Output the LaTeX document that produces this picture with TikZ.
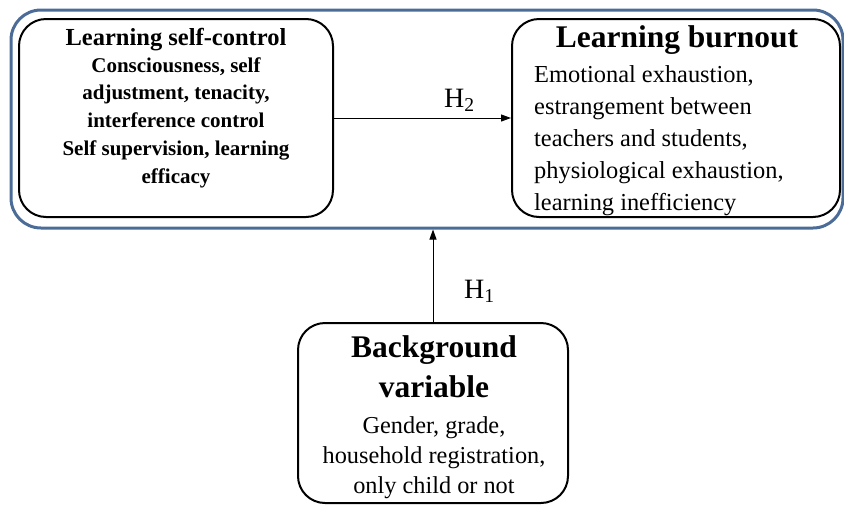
\documentclass[tikz,border=0pt]{standalone}
\usepackage{fontspec}
\setmainfont{Liberation Serif}
\usetikzlibrary{arrows.meta}
\definecolor{frameblue}{HTML}{4C6C98}
\tikzset{
  box/.style={draw=black, line width=2pt, rounded corners=27pt, inner sep=0pt},
  outerframe/.style={draw=frameblue, line width=3pt, rounded corners=30pt, inner sep=0pt},
  txt/.style={inner sep=0pt, align=center},
  conn/.style={draw=black, line width=1pt, -{Triangle[length=10pt,width=7pt]}}
}
\begin{document}
\begin{tikzpicture}[x=1pt,y=-1pt]
\useasboundingbox (0,0) rectangle (844,504);
\clip (0,0) rectangle (844,504);
\node[outerframe, minimum width=832pt, minimum height=218pt] (outer) at (427,119) {};
\node[box, minimum width=314pt, minimum height=198pt] (lsc) at (176,118) {};
\node[box, minimum width=328pt, minimum height=198pt] (lb) at (676,118) {};
\node[box, minimum width=270pt, minimum height=180pt] (bg) at (433,413) {};
% left box text
\node[txt, anchor=base, font=\fontsize{24.5}{27}\selectfont\bfseries] (lsct) at (176,45) {Learning self-control};
\node[txt, anchor=base, font=\fontsize{21}{27.7}\selectfont\bfseries] (lscb) at (176,183) {Consciousness, self\\ adjustment, tenacity,\\ interference control\\ Self supervision, learning\\ efficacy};
% right box text
\node[txt, anchor=base, font=\fontsize{31.5}{34}\selectfont\bfseries] (lbt) at (677,47) {Learning burnout};
\node[txt, anchor=base west, align=left, font=\fontsize{24.4}{32}\selectfont] (lbb) at (534,210) {Emotional exhaustion,\\ estrangement between\\ teachers and students,\\ physiological exhaustion,\\ learning inefficiency};
% background text
\node[txt, anchor=base, font=\fontsize{31.5}{40}\selectfont\bfseries] (bgt) at (434,397) {Background\\ variable};
\node[txt, anchor=base, font=\fontsize{24.3}{30}\selectfont] (bgb) at (434,493) {Gender, grade,\\ household registration,\\ only child or not};
% connectors
\draw[conn] (lsc.east) -- (lb.west);
\draw[conn] (bg.north) -- (bg.north |- outer.south);
\node[inner sep=0pt, anchor=base west, font=\fontsize{28}{30}\selectfont] (h2) at (444,107) {H\textsubscript{2}};
\node[inner sep=0pt, anchor=base west, font=\fontsize{28}{30}\selectfont] (h1) at (464,298) {H\textsubscript{1}};
\end{tikzpicture}
\end{document}
